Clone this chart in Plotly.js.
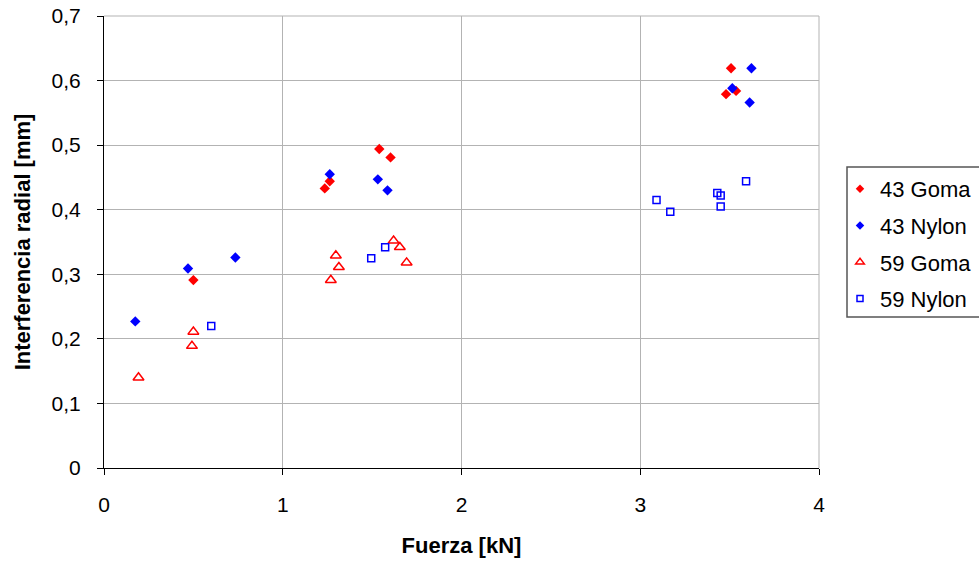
<!DOCTYPE html>
<html>
<head>
<meta charset="utf-8">
<script src="https://cdn.plot.ly/plotly-3.0.1.min.js"></script>
<style>html,body{margin:0;padding:0;background:#fff;}#chart{width:979px;height:563px;}</style>
</head>
<body>
<div id="chart"></div>
<script>
const goma43_x = [0.50, 1.235, 1.263, 1.54, 1.603, 3.508, 3.48, 3.536];
const goma43_y = [0.291, 0.433, 0.444, 0.494, 0.481, 0.619, 0.579, 0.584];
const nylon43_x = [0.175, 0.47, 0.735, 1.263, 1.532, 1.586, 3.622, 3.515, 3.612];
const nylon43_y = [0.227, 0.309, 0.326, 0.455, 0.447, 0.430, 0.619, 0.588, 0.566];
const goma59_x = [0.193, 0.50, 0.492, 1.297, 1.314, 1.269, 1.62, 1.655, 1.693];
const goma59_y = [0.140, 0.211, 0.189, 0.329, 0.311, 0.291, 0.352, 0.342, 0.318];
const nylon59_x = [0.60, 1.495, 1.573, 3.091, 3.168, 3.431, 3.45, 3.45, 3.592];
const nylon59_y = [0.220, 0.325, 0.342, 0.415, 0.397, 0.426, 0.422, 0.405, 0.444];
const seriesNames = ["43 Goma", "43 Nylon", "59 Goma", "59 Nylon"];
const xTicks = [0, 1, 2, 3, 4];
const yTicks = [0, 0.1, 0.2, 0.3, 0.4, 0.5, 0.6, 0.7];
const yTickText = ["0", "0,1", "0,2", "0,3", "0,4", "0,5", "0,6", "0,7"];

const styles = [
  {symbol: "diamond", color: "#ff0000", size: 8, lw: 0},
  {symbol: "diamond", color: "#0000ff", size: 8, lw: 0},
  {symbol: "triangle-up-open", color: "#ff0000", size: 9.5, lw: 1.5},
  {symbol: "square-open", color: "#0000ff", size: 7, lw: 1.5}
];
const xs = [goma43_x, nylon43_x, goma59_x, nylon59_x];
const ys = [goma43_y, nylon43_y, goma59_y, nylon59_y];

const traces = [];
for (let i = 0; i < 4; i++) {
  const s = styles[i];
  traces.push({x: xs[i], y: ys[i], name: seriesNames[i], showlegend: false,
    mode: "markers", type: "scatter",
    marker: {symbol: s.symbol, size: s.size, color: s.color, line: {width: s.lw, color: s.color}}});
}
const legendSizes = [6.5, 6.5, 7.5, 6];
for (let i = 0; i < 4; i++) {
  const s = styles[i];
  traces.push({x: [null], y: [null], name: seriesNames[i], legendgroup: "g" + i, showlegend: true,
    mode: "markers", type: "scatter",
    marker: {symbol: s.symbol, size: legendSizes[i], color: s.color, line: {width: s.lw, color: s.color}}});
}

const layout = {
  width: 979, height: 563,
  margin: {l: 104, r: 160, t: 16, b: 95, autoexpand: false},
  paper_bgcolor: "#ffffff", plot_bgcolor: "#ffffff",
  font: {family: "Liberation Sans, Arial, sans-serif", size: 21, color: "#000000"},
  showlegend: true,
  legend: {x: (840 - 104) / 715, xanchor: "left", y: (468 - 168) / 452, yanchor: "top",
           borderwidth: 0, bgcolor: "rgba(0,0,0,0)",
           font: {size: 22, color: "#000000"}, tracegroupgap: 5},
  xaxis: {range: [0, 4], tickvals: xTicks, ticktext: xTicks.map(String),
          showgrid: true, gridcolor: "#b3b3b3", gridwidth: 1,
          showline: true, linecolor: "#000000", linewidth: 1,
          ticks: "outside", ticklen: 6, tickcolor: "#000000", zeroline: false,
          tickfont: {size: 21}, ticklabelstandoff: 12,
          title: {text: "<b>Fuerza [kN]</b>", font: {size: 22}, standoff: 22}},
  yaxis: {range: [0, 0.7], tickvals: yTicks, ticktext: yTickText,
          showgrid: true, gridcolor: "#b3b3b3", gridwidth: 1,
          showline: true, linecolor: "#000000", linewidth: 1,
          ticks: "outside", ticklen: 6, tickcolor: "#000000", zeroline: false,
          tickfont: {size: 21}, ticklabelstandoff: 12,
          title: {text: "<b>Interferencia radial [mm]</b>", font: {size: 22}, standoff: 14}},
  shapes: [
    {type: "line", xref: "paper", yref: "paper", x0: 0, x1: 1, y0: 1, y1: 1, line: {color: "#b3b3b3", width: 1}},
    {type: "line", xref: "paper", yref: "paper", x0: 1, x1: 1, y0: 0, y1: 1, line: {color: "#b3b3b3", width: 1}},
    {type: "rect", xref: "paper", yref: "paper",
     x0: (847 - 104) / 715, x1: (1000 - 104) / 715, y0: (468 - 317) / 452, y1: (468 - 167) / 452,
     line: {color: "#555555", width: 1.5}, fillcolor: "rgba(0,0,0,0)"}
  ]
};

Plotly.newPlot("chart", traces, layout, {displayModeBar: false, staticPlot: true});
</script>
</body>
</html>
